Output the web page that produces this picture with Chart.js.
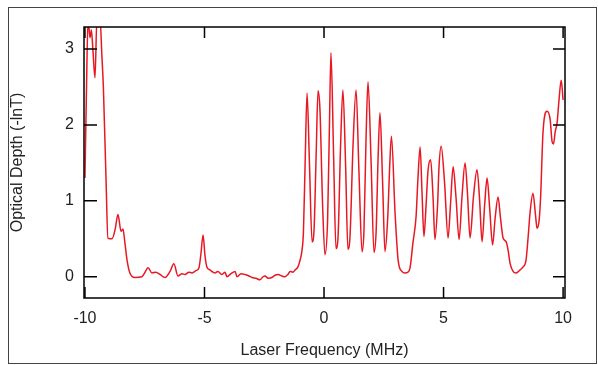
<!DOCTYPE html>
<html>
<head>
<meta charset="utf-8">
<script src="https://cdn.jsdelivr.net/npm/chart.js@4"></script>
<style>
  body { margin: 0; background: #fff; }
  canvas { display: block; }
</style>
</head>
<body>
<canvas id="chart" width="598" height="365"></canvas>
<script>
// laser frequency (MHz)
const FREQ = [
  -10.00, -9.94, -9.87, -9.79, -9.73, -9.67, -9.58, -9.50, -9.37, -9.29,
  -9.23, -9.12, -9.04, -8.87, -8.74, -8.62, -8.49, -8.41, -8.33, -8.24,
  -8.12, -7.91, -7.62, -7.45, -7.36, -7.20, -7.03, -6.86, -6.65, -6.44,
  -6.28, -6.11, -5.94, -5.82, -5.65, -5.52, -5.36, -5.23, -5.15, -5.06,
  -4.98, -4.90, -4.77, -4.64, -4.56, -4.44, -4.27, -4.14, -4.06, -3.89,
  -3.72, -3.64, -3.47, -3.31, -3.14, -3.01, -2.85, -2.68, -2.55, -2.47,
  -2.34, -2.18, -2.05, -1.92, -1.76, -1.63, -1.51, -1.42, -1.30, -1.21,
  -1.09, -1.00, -0.92, -0.86, -0.79, -0.71, -0.61, -0.50, -0.42, -0.33,
  -0.25, -0.17, -0.06, 0.04, 0.15, 0.23, 0.29, 0.40, 0.50, 0.59,
  0.69, 0.79, 0.90, 1.00, 1.09, 1.21, 1.34, 1.46, 1.59, 1.67,
  1.76, 1.84, 1.97, 2.09, 2.18, 2.26, 2.34, 2.45, 2.55, 2.66,
  2.76, 2.82, 2.97, 3.10, 3.26, 3.39, 3.51, 3.60, 3.72, 3.85,
  3.93, 4.02, 4.10, 4.18, 4.27, 4.35, 4.46, 4.56, 4.64, 4.75,
  4.81, 4.90, 5.04, 5.19, 5.29, 5.40, 5.52, 5.65, 5.77, 5.90,
  6.00, 6.11, 6.25, 6.40, 6.51, 6.61, 6.72, 6.82, 6.93, 7.05,
  7.16, 7.28, 7.38, 7.49, 7.62, 7.70, 7.78, 7.91, 8.03, 8.20,
  8.33, 8.45, 8.54, 8.62, 8.74, 8.85, 8.91, 9.00, 9.06, 9.16,
  9.33, 9.46, 9.54, 9.60, 9.67, 9.75, 9.83, 9.92, 10.00
];

// optical depth (-lnT)
const DEPTH = [
  1.30, 2.40, 3.40, 3.15, 3.25, 3.00, 2.62, 3.40, 3.40, 2.90,
  2.50, 1.30, 0.51, 0.50, 0.62, 0.82, 0.60, 0.63, 0.45, 0.22,
  0.05, -0.01, 0.00, 0.08, 0.12, 0.05, 0.06, 0.03, -0.01, 0.07,
  0.17, 0.01, 0.04, 0.03, 0.06, 0.05, 0.08, 0.12, 0.30, 0.55,
  0.28, 0.13, 0.09, 0.06, 0.05, 0.07, 0.03, 0.06, 0.00, 0.04,
  0.07, 0.00, 0.04, 0.03, 0.01, -0.01, -0.02, -0.04, 0.00, 0.01,
  -0.02, -0.01, 0.02, 0.03, 0.01, 0.00, 0.03, 0.07, 0.06, 0.09,
  0.13, 0.22, 0.35, 0.60, 1.50, 2.42, 1.50, 0.46, 0.60, 1.60,
  2.45, 2.20, 0.95, 0.29, 0.75, 2.05, 2.95, 1.60, 0.37, 0.55,
  1.70, 2.46, 1.50, 0.36, 0.55, 1.70, 2.46, 1.40, 0.33, 0.60,
  1.85, 2.57, 1.50, 0.32, 0.60, 1.55, 2.16, 1.25, 0.33, 0.75,
  1.55, 1.85, 0.85, 0.22, 0.07, 0.05, 0.06, 0.12, 0.45, 0.79,
  1.30, 1.71, 1.10, 0.53, 0.95, 1.40, 1.54, 1.05, 0.49, 0.95,
  1.45, 1.72, 1.25, 0.51, 0.95, 1.45, 1.05, 0.49, 1.05, 1.50,
  1.10, 0.51, 1.05, 1.41, 1.00, 0.46, 0.95, 1.30, 0.90, 0.42,
  0.78, 1.05, 0.78, 0.51, 0.46, 0.35, 0.18, 0.07, 0.05, 0.09,
  0.13, 0.22, 0.53, 0.85, 1.10, 0.80, 0.64, 0.75, 1.05, 1.90,
  2.18, 2.07, 1.78, 1.75, 1.91, 2.03, 2.33, 2.59, 2.33
];

const X_TICKS = [-10, -5, 0, 5, 10];
const Y_TICKS = [0, 1, 2, 3];

const FONT = { family: "'Liberation Sans', Arial, sans-serif", size: 16 };

// black frame round the plot with inward ticks on all four sides, plus outer border
const framePlugin = {
  id: "frame",
  beforeDraw(chart) {
    const c = chart.ctx;
    c.save();
    c.fillStyle = "#fff";
    c.fillRect(0, 0, chart.width, chart.height);
    c.strokeStyle = "#444";
    c.lineWidth = 1;
    c.strokeRect(8.5, 7.5, 588, 356);
    c.restore();
  },
  afterDraw(chart) {
    const { ctx: c, chartArea: a, scales } = chart;
    c.save();
    c.strokeStyle = "#000";
    c.lineWidth = 1.5;
    c.strokeRect(a.left, a.top, a.right - a.left, a.bottom - a.top);
    c.beginPath();
    X_TICKS.forEach((v) => {
      const px = scales.x.getPixelForValue(v);
      c.moveTo(px, a.bottom); c.lineTo(px, a.bottom - 11);
      c.moveTo(px, a.top); c.lineTo(px, a.top + 11);
    });
    Y_TICKS.forEach((v) => {
      const py = scales.y.getPixelForValue(v);
      c.moveTo(a.left, py); c.lineTo(a.left + 13, py);
      c.moveTo(a.right, py); c.lineTo(a.right - 12, py);
    });
    c.stroke();
    c.restore();
  },
};

new Chart(document.getElementById("chart"), {
  type: "line",
  data: {
    datasets: [
      {
        data: FREQ.map((f, i) => ({ x: f, y: DEPTH[i] })),
        borderColor: "rgb(232, 24, 34)",
        borderWidth: 1.5,
        pointRadius: 0,
        cubicInterpolationMode: "monotone",
        fill: false,
      },
    ],
  },
  options: {
    responsive: false,
    animation: false,
    devicePixelRatio: 1,
    layout: { padding: { left: 0, top: 27, right: 33, bottom: 0 } },
    plugins: { legend: { display: false }, tooltip: { enabled: false } },
    scales: {
      x: {
        type: "linear",
        min: -10.04,
        max: 10.08,
        afterBuildTicks: (s) => { s.ticks = X_TICKS.map((v) => ({ value: v })); },
        afterFit: (s) => { s.height = 67; },
        grid: { display: false },
        border: { display: false },
        ticks: { font: FONT, color: "#222", padding: 3, maxRotation: 0 },
        title: {
          display: true,
          text: "Laser Frequency (MHz)",
          font: FONT,
          color: "#222",
          padding: { top: 0, bottom: 5 },
        },
      },
      y: {
        type: "linear",
        min: -0.28,
        max: 3.29,
        afterBuildTicks: (s) => { s.ticks = Y_TICKS.map((v) => ({ value: v })); },
        afterFit: (s) => { s.width = 84; },
        grid: { display: false },
        border: { display: false },
        ticks: { font: FONT, color: "#222", padding: 2 },
        title: {
          display: true,
          text: "Optical Depth (-lnT)",
          font: FONT,
          color: "#222",
          padding: { top: 8, bottom: 0 },
        },
      },
    },
  },
  plugins: [framePlugin],
});
</script>
</body>
</html>
